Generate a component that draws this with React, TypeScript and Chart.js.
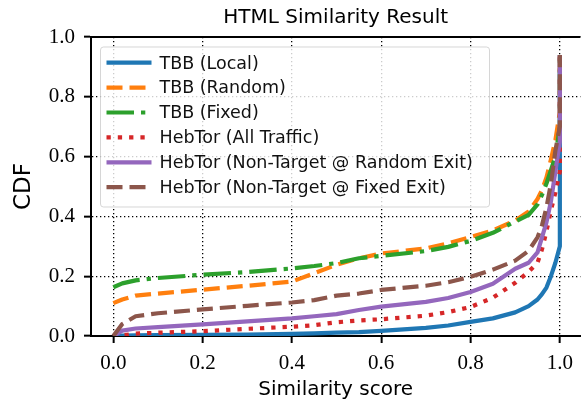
import React, { useEffect, useRef } from "react";
import { Chart, registerables } from "chart.js";

Chart.register(...registerables);

const chartTitle = "HTML Similarity Result";
const xLabel = "Similarity score";
const yLabel = "CDF";
const xTicks = [0, 0.2, 0.4, 0.6, 0.8, 1.0];
const yTicks = [0, 0.2, 0.4, 0.6, 0.8, 1.0];

const seriesNames = [
  "TBB (Local)",
  "TBB (Random)",
  "TBB (Fixed)",
  "HebTor (All Traffic)",
  "HebTor (Non-Target @ Random Exit)",
  "HebTor (Non-Target @ Fixed Exit)",
];

// similarity score grid (x values)
const scores = [0, 0.02, 0.05, 0.1, 0.2, 0.3, 0.4, 0.45, 0.5, 0.55, 0.6, 0.7, 0.75, 0.8, 0.85, 0.9, 0.93, 0.95, 0.96, 0.97, 0.98, 0.99, 1.0, 1.0];

const tbbLocal = [0, 0.001, 0.002, 0.003, 0.004, 0.005, 0.007, 0.009, 0.011, 0.013, 0.017, 0.027, 0.035, 0.047, 0.059, 0.079, 0.1, 0.122, 0.14, 0.162, 0.2, 0.245, 0.3, 0.94];
const tbbRandom = [0.11, 0.122, 0.135, 0.142, 0.155, 0.168, 0.182, 0.21, 0.238, 0.26, 0.276, 0.293, 0.31, 0.331, 0.353, 0.386, 0.416, 0.458, 0.488, 0.53, 0.59, 0.655, 0.75, 0.94];
const tbbFixed = [0.163, 0.176, 0.186, 0.194, 0.205, 0.214, 0.226, 0.234, 0.244, 0.26, 0.268, 0.284, 0.298, 0.318, 0.345, 0.383, 0.405, 0.44, 0.472, 0.51, 0.555, 0.6, 0.7, 0.94];
const hebAll = [0, 0.002, 0.008, 0.011, 0.016, 0.024, 0.031, 0.036, 0.046, 0.052, 0.056, 0.068, 0.08, 0.097, 0.128, 0.178, 0.215, 0.245, 0.29, 0.35, 0.42, 0.48, 0.55, 0.94];
const hebRandomExit = [0, 0.018, 0.025, 0.03, 0.039, 0.049, 0.059, 0.066, 0.073, 0.087, 0.098, 0.114, 0.127, 0.147, 0.175, 0.225, 0.245, 0.28, 0.33, 0.38, 0.45, 0.55, 0.65, 0.94];
const hebFixedExit = [0, 0.04, 0.066, 0.076, 0.089, 0.101, 0.112, 0.12, 0.135, 0.142, 0.154, 0.168, 0.18, 0.198, 0.222, 0.252, 0.285, 0.33, 0.37, 0.43, 0.51, 0.62, 0.7, 0.94];

const seriesValues = [tbbLocal, tbbRandom, tbbFixed, hebAll, hebRandomExit, hebFixedExit];
const colors = ["#1f77b4", "#ff7f0e", "#2ca02c", "#d62728", "#9467bd", "#8c564b"];
const dashes = [[], [16, 7], [27.5, 7, 4.3, 7], [4.3, 7], [], [16, 7]];

const LW = 4.2;

const boxLegend = {
  id: "boxLegend",
  afterDatasetsDraw(chart: any) {
    const { ctx, chartArea } = chart;
    const bx = chartArea.left + 9.5;
    const by = chartArea.top + 10;
    const bw = 389;
    const bh = 160;
    ctx.save();
    ctx.beginPath();
    (ctx as any).roundRect(bx, by, bw, bh, 3);
    ctx.fillStyle = "rgba(255,255,255,0.8)";
    ctx.fill();
    ctx.lineWidth = 1;
    ctx.strokeStyle = "rgba(204,204,204,0.8)";
    ctx.stroke();
    chart.data.datasets.forEach((ds: any, i: number) => {
      const ry = by + 15.7 + i * 24.9;
      ctx.beginPath();
      ctx.setLineDash(ds.borderDash || []);
      ctx.lineCap = "butt";
      ctx.lineWidth = ds.borderWidth;
      ctx.strokeStyle = ds.borderColor;
      ctx.moveTo(bx + 6, ry);
      ctx.lineTo(bx + 51, ry);
      ctx.stroke();
      ctx.setLineDash([]);
      ctx.fillStyle = "#111";
      ctx.font = "17.5px 'DejaVu Sans'";
      ctx.textAlign = "left";
      ctx.textBaseline = "alphabetic";
      ctx.fillText(ds.label, bx + 59, ry + 5.8);
    });
    ctx.restore();
  },
  afterDraw(chart: any) {
    const { ctx, chartArea } = chart;
    ctx.save();
    ctx.strokeStyle = "#000";
    ctx.lineWidth = 2;
    ctx.beginPath();
    ctx.moveTo(chartArea.left - 1, chartArea.top);
    ctx.lineTo(chartArea.right, chartArea.top);
    ctx.stroke();
    ctx.restore();
  },
};

export default function App() {
  const ref = useRef<HTMLCanvasElement>(null);
  useEffect(() => {
    if (!ref.current) return;
    const datasets = seriesNames.map((name, i) => ({
      label: name,
      data: scores.map((s, j) => ({ x: s, y: seriesValues[i][j] })),
      borderColor: colors[i],
      backgroundColor: colors[i],
      borderWidth: LW,
      borderDash: dashes[i],
      borderCapStyle: "butt" as const,
      borderJoinStyle: "round" as const,
      pointRadius: 0,
      fill: false,
      tension: 0,
      order: 5 - i,
    }));
    const gridCommon = {
      color: "#000",
      lineWidth: 1.3,
      drawTicks: true,
      tickLength: 7,
      tickWidth: 2,
      tickColor: "#000",
      tickBorderDash: [],
    };
    const chart = new Chart(ref.current, {
      type: "line",
      data: { datasets },
      plugins: [boxLegend],
      options: {
        animation: false,
        responsive: false,
        devicePixelRatio: 1,
        layout: { padding: { left: 0, right: 0, top: 0, bottom: 0 } },
        plugins: {
          legend: { display: false },
          tooltip: { enabled: false },
          title: {
            display: true,
            text: chartTitle,
            fullSize: false,
            color: "#000",
            font: { family: "DejaVu Sans", size: 20, weight: "normal" },
            padding: { top: 6, bottom: 7 },
          },
        },
        scales: {
          x: {
            type: "linear",
            min: -0.05,
            max: 1.046,
            afterBuildTicks: (s: any) => {
              s.ticks = xTicks.map((v) => ({ value: v }));
            },
            afterFit: (s: any) => {
              s.height = 69;
            },
            ticks: {
              autoSkip: false,
              maxRotation: 0,
              padding: 8,
              color: "#000",
              font: { family: "Liberation Serif", size: 21 },
              callback: (v: any) => Number(v).toFixed(1),
            },
            grid: gridCommon,
            border: { display: true, color: "#000", width: 2, dash: [1.3, 2.7] },
            title: {
              display: true,
              text: xLabel,
              color: "#000",
              font: { family: "DejaVu Sans", size: 20 },
              padding: { top: 0, bottom: 3.5 },
            },
          },
          y: {
            type: "linear",
            min: 0,
            max: 1,
            afterBuildTicks: (s: any) => {
              s.ticks = yTicks.map((v) => ({ value: v }));
            },
            afterFit: (s: any) => {
              s.width = 91;
            },
            ticks: {
              autoSkip: false,
              padding: 9,
              color: "#000",
              font: { family: "Liberation Serif", size: 21 },
              callback: (v: any) => Number(v).toFixed(1),
            },
            grid: gridCommon,
            border: { display: true, color: "#000", width: 2, dash: [1.3, 2.7] },
            title: {
              display: true,
              text: yLabel,
              color: "#000",
              font: { family: "DejaVu Sans", size: 23 },
              padding: { top: 10, bottom: 0 },
            },
          },
        },
      } as any,
    });
    return () => chart.destroy();
  }, []);
  return (
    <canvas
      ref={ref}
      width={581}
      height={405}
      style={{ position: "fixed", left: 0, top: 0, width: 581, height: 405, background: "#fff" }}
    />
  );
}
